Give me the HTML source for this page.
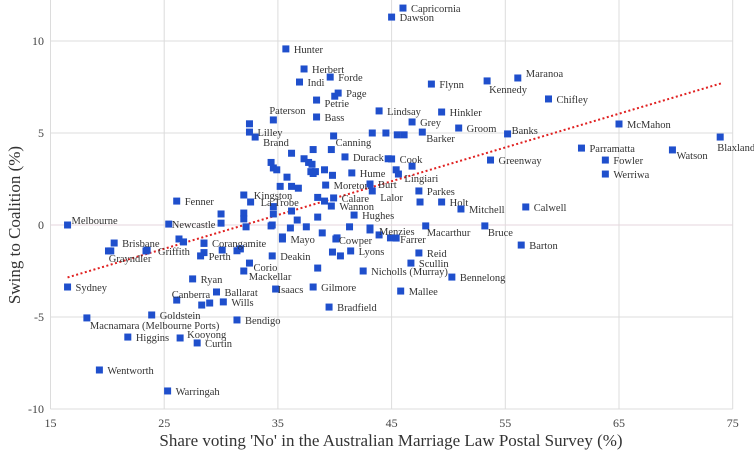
<!DOCTYPE html>
<html><head><meta charset="utf-8"><style>
html,body{margin:0;padding:0;background:#fff;}
svg{display:block;font-family:"Liberation Serif",serif;}
</style></head><body>
<svg id="chart" width="754" height="460" viewBox="0 0 754 460" xmlns="http://www.w3.org/2000/svg">
<g id="grid"></g>
<g id="axes"></g>
<g id="trend"></g>
<g id="points"></g>
<text x="391" y="446" text-anchor="middle" font-size="17" fill="#333">Share voting 'No' in the Australian Marriage Law Postal Survey (%)</text>
<text transform="translate(20,225) rotate(-90)" text-anchor="middle" font-size="17" fill="#333">Swing to Coalition (%)</text>
</svg>
<script>
const xTicks=[15,25,35,45,55,65,75];
const yTicks=[-10,-5,0,5,10];
const trendX=[16.5,74];
const trendY=[-2.85,7.7];
const labNames=["Capricornia","Dawson","Hunter","Herbert","Indi","Forde","Page","Petrie","Flynn","Kennedy","Maranoa","Chifley","Paterson","Bass","Lindsay","Hinkler","Grey","Groom","Barker","Banks","McMahon","Blaxland","Watson","Parramatta","Fowler","Werriwa","Greenway","Lilley","Brand","Canning","Durack","Cook","Hume","Lingiari","Moreton","Burt","Lalor","Calare","Wannon","Parkes","Holt","Mitchell","Calwell","Hughes","Kingston","La Trobe","Fenner","Newcastle","Melbourne","Brisbane","Grayndler","Griffith","Corangamite","Perth","Mayo","Cowper","Menzies","Farrer","Macarthur","Bruce","Barton","Reid","Lyons","Deakin","Scullin","Corio","Mackellar","Nicholls (Murray)","Bennelong","Ryan","Gilmore","Isaacs","Mallee","Sydney","Ballarat","Canberra","Wills","Goldstein","Macnamara (Melbourne Ports)","Bendigo","Bradfield","Higgins","Kooyong","Curtin","Wentworth","Warringah"];
const labX=[46.0,45.0,35.7,37.3,36.9,39.6,40.3,38.4,48.5,53.4,56.1,58.8,34.6,38.4,43.9,49.4,46.8,50.9,47.7,55.2,65.0,73.9,69.7,61.7,63.8,63.8,53.7,32.5,33.0,39.9,40.9,45.0,41.5,45.6,39.2,43.1,43.3,39.9,39.7,47.4,49.4,51.1,56.8,41.7,32.0,32.6,26.1,25.4,16.5,20.6,20.3,23.4,28.5,28.2,35.4,40.1,43.1,45.4,48.0,53.2,56.4,47.4,41.4,34.5,46.7,32.5,32.0,42.5,50.3,27.5,38.1,34.8,45.8,16.5,29.6,26.1,30.2,23.9,18.2,31.4,39.5,21.8,26.4,27.9,19.3,25.3];
const labY=[11.79,11.3,9.57,8.48,7.77,8.04,7.17,6.79,7.66,7.83,7.99,6.85,5.71,5.87,6.2,6.14,5.6,5.27,5.05,4.95,5.49,4.78,4.08,4.18,3.53,2.77,3.53,5.05,4.78,4.84,3.7,3.59,2.83,2.77,2.17,2.23,1.85,1.47,1.03,1.85,1.25,0.87,0.98,0.54,1.63,1.25,1.30,0.05,0,-0.98,-1.41,-1.41,-0.98,-1.68,-0.76,-0.76,-0.27,-0.71,-0.05,-0.05,-1.09,-1.52,-1.41,-1.68,-2.07,-2.07,-2.5,-2.5,-2.83,-2.93,-3.37,-3.48,-3.59,-3.37,-3.64,-4.08,-4.18,-4.89,-5.05,-5.16,-4.46,-6.09,-6.14,-6.41,-7.88,-9.02];
const otherX=[32.5,43.3,44.5,45.5,46.1,36.2,38.1,39.7,37.3,37.7,38.0,34.4,34.6,34.9,37.9,38.3,38.1,39.1,35.8,39.8,44.7,46.8,45.4,35.2,36.2,36.8,47.5,34.6,38.5,39.1,36.2,38.5,32.0,34.6,32.0,36.7,34.5,36.1,37.5,41.3,43.1,30.0,30.0,32.2,34.4,38.9,43.9,44.9,40.2,35.4,26.3,26.7,23.5,28.5,30.1,31.4,31.7,28.5,39.8,40.5,38.5,29.0,28.3,20.1,40.0];
const otherY=[5.5,5.0,5.0,4.9,4.9,3.9,4.1,4.1,3.6,3.4,3.3,3.4,3.1,3.0,2.9,2.9,2.8,3.0,2.6,2.7,3.6,3.2,3.0,2.1,2.1,2.0,1.25,1.0,1.5,1.3,0.76,0.43,0.65,0.6,0.33,0.27,0,-0.16,-0.1,-0.1,-0.16,0.6,0.1,-0.1,-0.05,-0.43,-0.54,-0.7,-0.7,-0.65,-0.76,-0.92,-1.36,-1.0,-1.36,-1.4,-1.3,-1.5,-1.47,-1.68,-2.34,-4.24,-4.35,-1.41,7.0];
const labelOffsets={"Dawson":[8,0],"Petrie":[8,3],"Kennedy":[2,8],"Maranoa":[8,-5],"Paterson":[-4,-10],"Barker":[4,6],"Banks":[4,-4],"Blaxland":[-3,10],"Watson":[4,5],"Brand":[8,5],"Canning":[2,6],"Lingiari":[6,4],"Lalor":[8,6],"Kingston":[10,0],"La Trobe":[10,0],"Newcastle":[3,0],"Melbourne":[4,-5],"Grayndler":[-2,7],"Griffith":[12,0],"Cowper":[3,1],"Menzies":[9,1],"Farrer":[4,1],"Macarthur":[1,6],"Bruce":[3,6],"Corio":[4,4],"Mackellar":[5,5],"Isaacs":[2,0],"Canberra":[-5,-6],"Macnamara (Melbourne Ports)":[3,7],"Kooyong":[7,-4]};

const X0=50.5,XS=11.37,Y0=225,YS=18.4;
const sx=v=>X0+(v-15)*XS;
const sy=v=>Y0-v*YS;
const NS="http://www.w3.org/2000/svg";
function mk(tag,parent,attrs){const e=document.createElementNS(NS,tag);for(const k in attrs)e.setAttribute(k,attrs[k]);parent.appendChild(e);return e;}
const grid=document.getElementById('grid'),axes=document.getElementById('axes');
xTicks.forEach(t=>{
  const l=mk('line',grid,{x1:sx(t),x2:sx(t),y1:0,y2:sy(-10),stroke:'#dcdcdc','stroke-width':1});
  
  
  const tx=mk('text',axes,{x:sx(t),y:427,'text-anchor':'middle','font-size':12,fill:'#444'});
  tx.textContent=t;
  
  
});
yTicks.forEach(t=>{
  const l=mk('line',grid,{x1:sx(15),x2:sx(75),y1:sy(t),y2:sy(t),stroke:t===0?'#e6d6dc':'#dcdcdc','stroke-width':1});
  
  
  const tx=mk('text',axes,{x:44,y:sy(t)+4,'text-anchor':'end','font-size':12,fill:'#444'});
  tx.textContent=t;
  
  
});
const tl=mk('line',document.getElementById('trend'),{x1:sx(trendX[0]),y1:sy(trendY[0]),x2:sx(trendX[1]),y2:sy(trendY[1]),stroke:'#e02020','stroke-width':2,'stroke-dasharray':'2,2.5'});


const pts=document.getElementById('points');
otherX.forEach((v,i)=>{
  const r=mk('rect',pts,{x:sx(v)-3.5,y:sy(otherY[i])-3.5,width:7,height:7,fill:'#1f4fcc'});
  
  
});
labNames.forEach((n,i)=>{
  const px=sx(labX[i]),py=sy(labY[i]);
  const r=mk('rect',pts,{x:px-3.5,y:py-3.5,width:7,height:7,fill:'#1f4fcc'});
  
  
  const o=labelOffsets[n]||[8,0];
  const t=mk('text',pts,{x:px+o[0],y:py+o[1]+4,'font-size':10.5,fill:'#333'});
  t.textContent=n;
  
  
});
</script>
</body></html>
